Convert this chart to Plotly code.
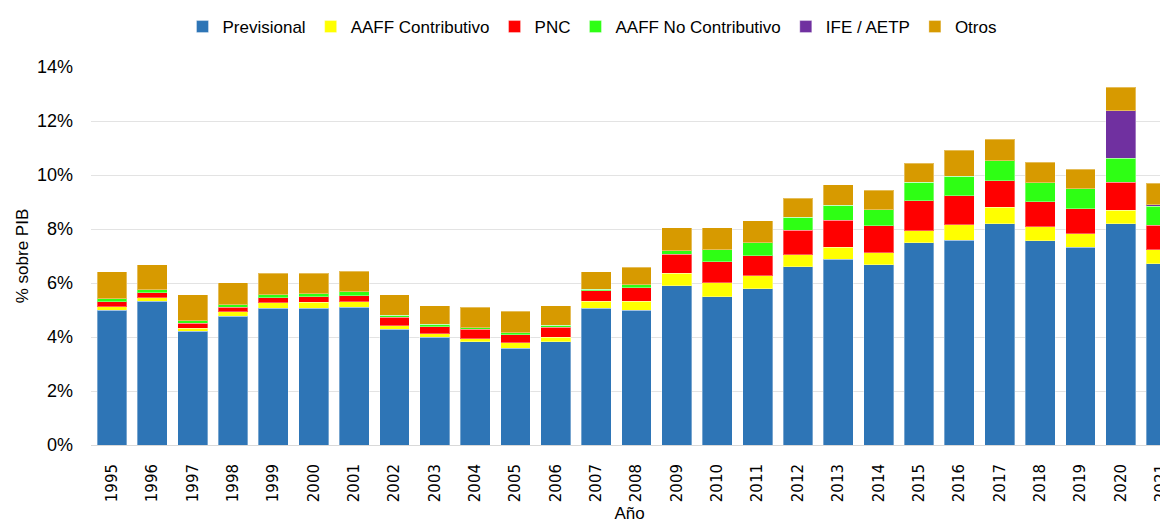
import plotly.graph_objects as go

years = [str(y) for y in range(1995, 2022)]

previsional = [5.00, 5.33, 4.21, 4.77, 5.06, 5.06, 5.10, 4.28, 3.99, 3.83, 3.59, 3.83, 5.06, 5.00,
               5.89, 5.49, 5.79, 6.60, 6.88, 6.68, 7.49, 7.59, 8.19, 7.56, 7.33, 8.19, 6.72]
aaff_contrib = [0.12, 0.13, 0.12, 0.16, 0.20, 0.22, 0.21, 0.13, 0.13, 0.10, 0.19, 0.17, 0.26, 0.32,
                0.48, 0.52, 0.48, 0.44, 0.44, 0.44, 0.44, 0.56, 0.62, 0.53, 0.50, 0.51, 0.51]
pnc = [0.18, 0.17, 0.18, 0.17, 0.20, 0.21, 0.22, 0.33, 0.26, 0.35, 0.31, 0.37, 0.40, 0.51,
       0.70, 0.77, 0.74, 0.92, 1.00, 1.00, 1.11, 1.08, 0.98, 0.92, 0.92, 1.03, 0.91]
aaff_nocontrib = [0.12, 0.12, 0.09, 0.09, 0.10, 0.11, 0.15, 0.06, 0.10, 0.07, 0.06, 0.06, 0.05, 0.10,
                  0.12, 0.45, 0.48, 0.48, 0.56, 0.60, 0.69, 0.73, 0.73, 0.71, 0.74, 0.89, 0.71]
ife_aetp = [0]*25 + [1.76, 0.05]
otros = [0.99, 0.92, 0.96, 0.82, 0.81, 0.77, 0.76, 0.76, 0.68, 0.75, 0.81, 0.73, 0.64, 0.65,
         0.86, 0.82, 0.82, 0.70, 0.75, 0.71, 0.71, 0.95, 0.81, 0.76, 0.73, 0.87, 0.79]

series = [
    ("Previsional", previsional, "#2E75B6"),
    ("AAFF Contributivo", aaff_contrib, "#FFFF00"),
    ("PNC", pnc, "#FF0000"),
    ("AAFF No Contributivo", aaff_nocontrib, "#2EFF14"),
    ("IFE / AETP", ife_aetp, "#7030A0"),
    ("Otros", otros, "#D79A00"),
]

fig = go.Figure()
for name, vals, col in series:
    fig.add_trace(go.Bar(
        x=years, y=[v / 100 for v in vals], name=name,
        marker=dict(color=col, line=dict(color="rgba(255,255,255,0.35)", width=1)),
    ))

fig.update_layout(
    barmode="stack",
    bargap=0.26,
    width=1168, height=524,
    paper_bgcolor="white", plot_bgcolor="white",
    margin=dict(l=83, r=8, t=59, b=87, autoexpand=False),
    font=dict(family="Liberation Sans, Arial, sans-serif", color="#000000", size=16),
    legend=dict(orientation="h", xref="container", yref="container",
                x=584 / 1168, xanchor="center", y=1 - 19 / 524, yanchor="middle",
                font=dict(size=17), itemwidth=30, traceorder="normal"),
    xaxis=dict(
        type="category", range=[-0.52, 26.17], automargin=False,
        tickangle=-90, tickfont=dict(family="DejaVu Sans", size=15),
        showline=True, linecolor="#d9d9d9", linewidth=1, ticks="",
        ticklabelstandoff=12,
        title=dict(text="Año", font=dict(size=17), standoff=5),
    ),
    yaxis=dict(
        range=[0, 0.14], dtick=0.02, tickformat=".0%", automargin=False,
        showgrid=True, gridcolor="#e3e3e3", gridwidth=1, zeroline=False,
        tickfont=dict(size=18), ticks="", ticklabelstandoff=17,
        title=dict(text="% sobre PIB", font=dict(size=17), standoff=4),
    ),
)

fig.write_html("out.html")
